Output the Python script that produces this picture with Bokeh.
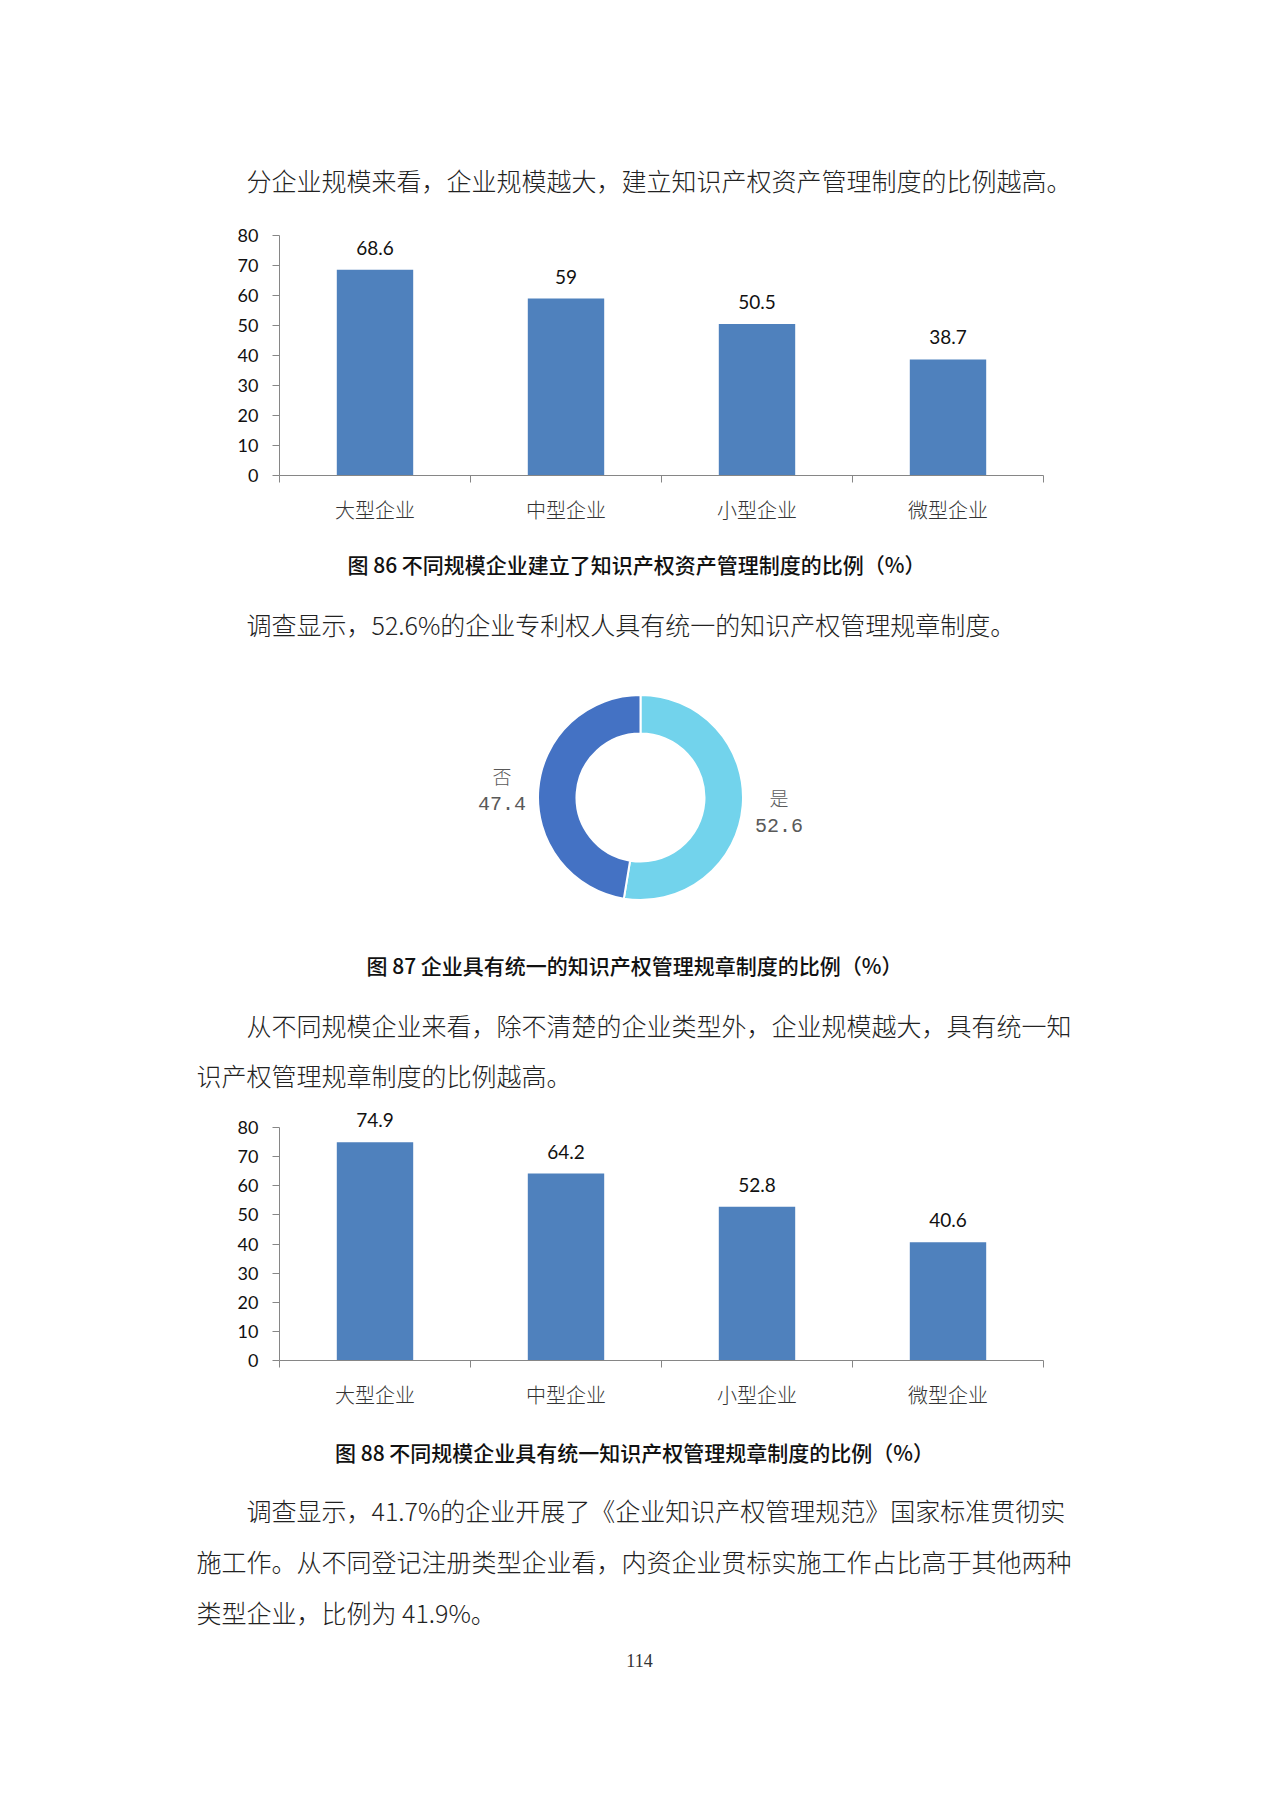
import numpy as np
from bokeh.plotting import figure
from bokeh.models import Range1d, FixedTicker, Label, LabelSet, ColumnDataSource
from bokeh.layouts import column
from bokeh.embed import file_html
from bokeh.resources import INLINE
from bokeh.core.properties import value

# ---------------- data ----------------
categories = ["大型企业", "中型企业", "小型企业", "微型企业"]
asset_mgmt_pct = [68.6, 59, 50.5, 38.7]        # 图 86
unified_rules_pct = [74.9, 64.2, 52.8, 40.6]   # 图 88
y_ticks = [0, 10, 20, 30, 40, 50, 60, 70, 80]
donut_names = ["是", "否"]                      # 图 87
donut_values = [52.6, 47.4]
donut_colors = ["#72D3EC", "#4472C4"]

para1 = "分企业规模来看，企业规模越大，建立知识产权资产管理制度的比例越高。"
caption86 = "图 86 不同规模企业建立了知识产权资产管理制度的比例（%）"
para2 = "调查显示，52.6%的企业专利权人具有统一的知识产权管理规章制度。"
caption87 = "图 87 企业具有统一的知识产权管理规章制度的比例（%）"
para3 = ["从不同规模企业来看，除不清楚的企业类型外，企业规模越大，具有统一知",
         "识产权管理规章制度的比例越高。"]
caption88 = "图 88 不同规模企业具有统一知识产权管理规章制度的比例（%）"
para4 = ["调查显示，41.7%的企业开展了《企业知识产权管理规范》国家标准贯彻实",
         "施工作。从不同登记注册类型企业看，内资企业贯标实施工作占比高于其他两种",
         "类型企业，比例为 41.9%。"]
page_no = "114"

# ---------------- styles / layout ----------------
W = 1264
FL = 100                      # common frame left (page px) for every figure; frame right = W
AX_L, AX_R = 279, 1043        # chart axes span (page px)
BODY_FONT = "Noto Sans CJK SC Light, Noto Sans CJK SC DemiLight, Noto Sans CJK SC"
CAP_FONT = "Noto Sans CJK SC Medium, Noto Sans CJK SC"
NUM_FONT = "Lato"
BAR_COLOR = "#4F81BD"
AXIS_COLOR = "#868686"


def base_fig(h, xr, yr, **kw):
    p = figure(width=W, height=h, x_range=xr, y_range=yr, output_backend="svg",
               toolbar_location=None, min_border_left=FL, min_border_right=0, **kw)
    p.outline_line_color = None
    p.xgrid.grid_line_color = None
    p.ygrid.grid_line_color = None
    return p


def text_fig(h, items):
    p = base_fig(h, Range1d(FL, W), Range1d(h, 0), x_axis_location=None,
                 y_axis_location=None, min_border_top=0, min_border_bottom=0)
    for (x, y, t, font, size, color, align) in items:
        p.add_layout(Label(x=x, y=y, text=t, text_font=font, text_font_size=f"{size}px",
                           text_color=color, text_align=align, text_baseline="middle"))
    return p


def bar_fig(vals, fig_h, top_gap, frame_h):
    """top_gap: px between figure top and the 80 line; frame_h: px for 0..80."""
    n = len(categories)
    ymax = y_ticks[-1]
    ppu_y = frame_h / ymax
    ppu_x = (AX_R - AX_L) / n
    bottom_gap = fig_h - top_gap - frame_h
    xr = Range1d(-(AX_L - FL) / ppu_x, n + (W - AX_R) / ppu_x)
    yr = Range1d(-bottom_gap / ppu_y, ymax + top_gap / ppu_y)
    p = base_fig(fig_h, xr, yr, min_border_top=0, min_border_bottom=0)
    xs = np.arange(n) + 0.5
    src = ColumnDataSource(dict(x=xs, top=vals, label=[f"{v:g}" for v in vals]))
    p.vbar(x="x", top="top", bottom=0, width=0.4, source=src,
           fill_color=BAR_COLOR, line_color=None)
    p.add_layout(LabelSet(x="x", y="top", text="label", source=src, y_offset=22,
                          text_align="center", text_baseline="middle",
                          text_font=value(NUM_FONT), text_font_size="19px",
                          text_color="#111111"))
    # x axis pinned at y = 0: labels at centres, tick marks at category boundaries
    xa = p.xaxis[0]
    xa.fixed_location = 0
    xa.bounds = (0, n)
    xa.ticker = FixedTicker(ticks=list(xs), minor_ticks=list(range(n + 1)))
    xa.major_label_overrides = {float(x): c for x, c in zip(xs, categories)}
    xa.major_tick_out = 0
    xa.major_tick_in = 0
    xa.minor_tick_out = 7
    xa.minor_tick_in = 0
    xa.minor_tick_line_color = AXIS_COLOR
    xa.axis_line_color = AXIS_COLOR
    xa.major_label_standoff = 12
    xa.major_label_text_font = BODY_FONT
    xa.major_label_text_font_size = "20px"
    xa.major_label_text_color = "#333333"
    # y axis pinned at x = 0
    ya = p.yaxis[0]
    ya.fixed_location = 0
    ya.bounds = (0, ymax)
    ya.ticker = FixedTicker(ticks=y_ticks)
    ya.major_tick_out = 7
    ya.major_tick_in = 0
    ya.minor_tick_line_color = None
    ya.major_tick_line_color = AXIS_COLOR
    ya.axis_line_color = AXIS_COLOR
    ya.major_label_standoff = 14
    ya.major_label_text_font = NUM_FONT
    ya.major_label_text_font_size = "18px"
    ya.major_label_text_color = "#111111"
    return p


def donut_fig(h, top_above_center, cx):
    p = base_fig(h, Range1d(FL - cx, W - cx), Range1d(top_above_center - h, top_above_center),
                 x_axis_location=None, y_axis_location=None,
                 min_border_top=0, min_border_bottom=0)
    vals = np.array(donut_values, dtype=float)
    frac = vals / vals.sum()
    cum = np.concatenate([[0.0], np.cumsum(frac)])
    starts = np.pi / 2 - 2 * np.pi * cum[:-1]
    ends = np.pi / 2 - 2 * np.pi * cum[1:]
    p.annular_wedge(x=0, y=0, inner_radius=64, outer_radius=102.5,
                    inner_radius_units="screen", outer_radius_units="screen",
                    start_angle=starts, end_angle=ends, direction="clock",
                    fill_color=donut_colors, line_color="white", line_width=2)
    mids = (starts + ends) / 2
    r = 139
    lx = r * np.cos(mids)
    ly = r * np.sin(mids)
    p.text(x=lx, y=ly, text=donut_names, y_offset=-11, text_align="center",
           text_baseline="middle", text_font=value(BODY_FONT), text_font_size="19px",
           text_color="#595959")
    p.text(x=lx, y=ly, text=[f"{v:g}" for v in donut_values], y_offset=17,
           text_align="center", text_baseline="middle", text_font=value("Liberation Mono"),
           text_font_size="20px", text_color="#595959")
    return p


BODY = 25
CAP = 21
TXT = "#222222"
CAPC = "#111111"

# page y of each figure top: 0, 205, 540, 660, 920, 1095, 1425
t1 = text_fig(205, [(246, 179, para1, BODY_FONT, BODY, TXT, "left")])
c1 = bar_fig(asset_mgmt_pct, 335, 30, 240)
t2 = text_fig(120, [(636, 23, caption86, CAP_FONT, CAP, CAPC, "center"),
                    (246, 83, para2, BODY_FONT, BODY, TXT, "left")])
d1 = donut_fig(260, 137, 640)
t3 = text_fig(175, [(634, 44, caption87, CAP_FONT, CAP, CAPC, "center"),
                    (246, 104, para3[0], BODY_FONT, BODY, TXT, "left"),
                    (196, 154, para3[1], BODY_FONT, BODY, TXT, "left")])
c2 = bar_fig(unified_rules_pct, 330, 32, 233)
t4 = text_fig(365, [(634, 26, caption88, CAP_FONT, CAP, CAPC, "center"),
                    (246, 84, para4[0], BODY_FONT, BODY, TXT, "left"),
                    (196, 135, para4[1], BODY_FONT, BODY, TXT, "left"),
                    (196, 186, para4[2], BODY_FONT, BODY, TXT, "left"),
                    (639, 235, page_no, "Liberation Serif", 18, "#333333", "center")])

layout = column(t1, c1, t2, d1, t3, c2, t4, spacing=0)
open("out.html", "w").write(file_html(layout, INLINE))
